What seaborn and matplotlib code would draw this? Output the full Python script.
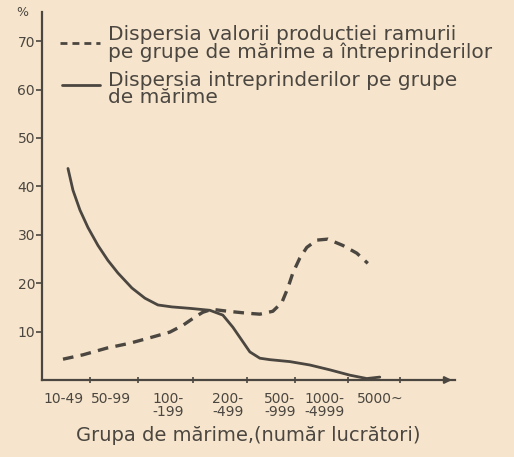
import numpy as np
import pandas as pd
import seaborn as sns
import matplotlib.pyplot as plt
from matplotlib.lines import Line2D

# group labels on the x axis and where they sit
groups = ["10-49", "50-99", "100-\n-199", "200-\n-499", "500-\n-999", "1000-\n-4999", "5000~"]
group_pos = [0.44, 1.38, 2.52, 3.72, 4.76, 5.66, 6.76]
tick_marks = [0.96, 1.92, 3.02, 4.10, 5.06, 6.12, 7.16]

# dispersia intreprinderilor (solid)
firms_x = [0.52, 0.62, 0.76, 0.92, 1.12, 1.32, 1.52, 1.80, 2.06, 2.32, 2.60,
           2.96, 3.36, 3.62, 3.82, 4.00, 4.16, 4.36, 4.56, 4.96, 5.36, 5.76,
           6.16, 6.50, 6.76]
firms_y = [43.7, 39.2, 35.1, 31.5, 27.8, 24.7, 22.1, 19.0, 16.9, 15.5, 15.1,
           14.8, 14.4, 13.4, 10.9, 8.2, 5.8, 4.5, 4.2, 3.8, 3.1, 2.1,
           1.0, 0.3, 0.6]

# dispersia valorii productiei (dashed)
prod_x = [0.42, 0.82, 1.30, 1.76, 2.22, 2.56, 2.82, 3.06, 3.22, 3.40, 3.72,
          4.10, 4.36, 4.62, 4.80, 4.92, 5.02, 5.16, 5.30, 5.50, 5.72, 6.02,
          6.30, 6.52]
prod_y = [4.3, 5.2, 6.6, 7.6, 8.9, 9.9, 11.3, 13.0, 14.0, 14.6, 14.2,
          13.8, 13.6, 14.2, 16.0, 19.0, 22.1, 25.2, 27.4, 28.9, 29.1, 27.8,
          26.2, 24.1]

paper = "#f6e5cc"
ink = "#4b4640"

sns.set_style("ticks")
plt.rcParams["font.family"] = ["DejaVu Sans"]
plt.rcParams["text.color"] = ink
plt.rcParams["axes.labelcolor"] = ink
plt.rcParams["xtick.color"] = ink
plt.rcParams["ytick.color"] = ink

fig = plt.figure(figsize=(5.14, 4.57), dpi=100, facecolor=paper)
ax = fig.add_axes([0.0817, 0.1685, 0.803, 0.805])
ax.set_facecolor(paper)

df_firms = pd.DataFrame({"poz": firms_x, "val": firms_y})
df_prod = pd.DataFrame({"poz": prod_x, "val": prod_y})

sns.lineplot(data=df_firms, x="poz", y="val", ax=ax, color=ink, lw=2.0, sort=False)
sns.lineplot(data=df_prod, x="poz", y="val", ax=ax, color=ink, lw=2.4, sort=False,
             linestyle=(0, (3.2, 2.2)))
for ln in ax.lines:
    ln.set_solid_joinstyle("round")
    ln.set_dash_joinstyle("round")

ax.set_xlim(0, 8.26)
ax.set_ylim(0, 76)
sns.despine(ax=ax)
for s in ["left", "bottom"]:
    ax.spines[s].set_color(ink)
    ax.spines[s].set_linewidth(1.6)

ax.set_yticks([10, 20, 30, 40, 50, 60, 70])
ax.tick_params(axis="y", length=4, width=1.2, labelsize=10, pad=1)

ax.set_xticks(group_pos)
ax.set_xticklabels(groups, linespacing=0.9)
ax.set_xticks(tick_marks, minor=True)
ax.tick_params(axis="x", which="major", length=0, labelsize=10, pad=9)
ax.tick_params(axis="x", which="minor", length=4, width=1.2, direction="inout")

ax.set_xlabel("Grupa de mărime,(număr lucrători)", fontsize=14, labelpad=5)
ax.set_ylabel("")

# arrow at the end of the x axis
ax.annotate("", xy=(1.0, 0), xytext=(0.97, 0), xycoords="axes fraction",
            arrowprops=dict(arrowstyle="-|>", color=ink, lw=1.6, mutation_scale=10))

fig.text(0.043, 0.972, "%", fontsize=9, ha="center", va="center")

# hand-drawn style legend
fig.add_artist(Line2D([0.117, 0.195], [0.906, 0.906], color=ink, lw=2.0,
                      linestyle=(0, (2.5, 1.8))))
fig.add_artist(Line2D([0.121, 0.195], [0.814, 0.814], color=ink, lw=2.0))
fig.text(0.210, 0.945, "Dispersia valorii productiei ramurii\npe grupe de mărime a întreprinderilor",
         fontsize=14.5, va="top", ha="left", linespacing=0.88)
fig.text(0.210, 0.845, "Dispersia intreprinderilor pe grupe\nde mărime",
         fontsize=14.5, va="top", ha="left", linespacing=0.88)

fig.savefig("out.png", dpi=100, facecolor=paper)
